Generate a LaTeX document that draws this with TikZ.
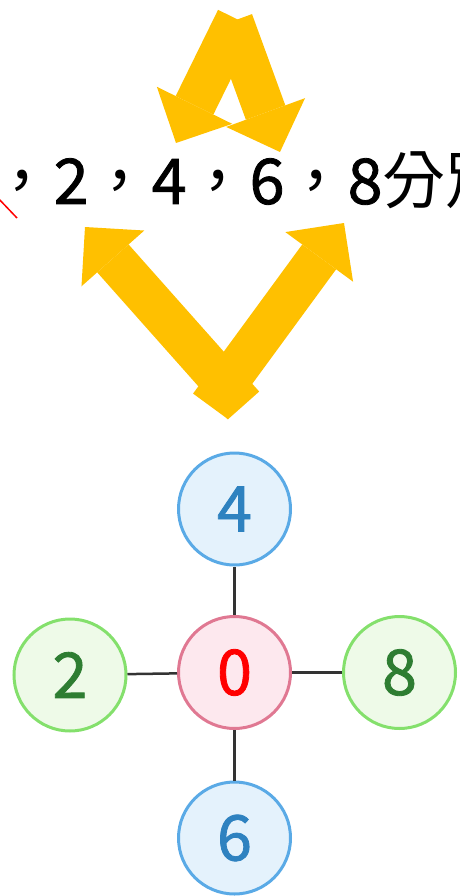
\documentclass[tikz,border=0pt]{standalone}
\usepackage{fontspec}
\usepackage{xcolor}
\usetikzlibrary{arrows.meta}
\newfontfamily\tcfont{Noto Sans CJK TC}
\newfontfamily\digfont{Noto Sans CJK TC}[FakeBold=1.3]
\definecolor{arrowyellow}{HTML}{FFC000}
\definecolor{ringblue}{HTML}{5AAAE6}
\definecolor{fillblue}{HTML}{E4F2FC}
\definecolor{textblue}{HTML}{2E82C0}
\definecolor{ringgreen}{HTML}{84E06C}
\definecolor{fillgreen}{HTML}{EEFAE8}
\definecolor{textgreen}{HTML}{2E7D32}
\definecolor{ringpink}{HTML}{E07892}
\definecolor{fillpink}{HTML}{FDE8EE}

\begin{document}
\begin{tikzpicture}[x=1pt,y=-1pt,
    bigarrow/.style={arrowyellow,line width=42pt,
        -{Triangle[length=42pt,width=84pt,line width=0pt]}},
    ball/.style={circle,minimum size=112pt,inner sep=0pt,line width=3pt,
        font=\digfont\fontsize{63}{63}\selectfont},
    blueball/.style={ball,draw=ringblue,fill=fillblue,text=textblue},
    greenball/.style={ball,draw=ringgreen,fill=fillgreen,text=textgreen},
    pinkball/.style={ball,draw=ringpink,fill=fillpink,text=red},
    link/.style={draw=black!80,line width=2.5pt}]
        \useasboundingbox (0,0) rectangle (459,896);
        \clip (0,0) rectangle (459,896);
        % yellow arrows
        \coordinate (top1) at (236.9,19.1);
        \coordinate (top2) at (232.3,21.3);
        \coordinate (tip4) at (176,143);
        \coordinate (tip6) at (280,152);
        \coordinate (low1) at (243.5,405.5);
        \coordinate (low2) at (210,406);
        \coordinate (tip2) at (85,227);
        \coordinate (tip8) at (344,223);
        \draw[bigarrow] (top1) -- (tip4);
        \draw[bigarrow] (top2) -- (tip6);
        \draw[bigarrow] (low1) -- (tip2);
        \draw[bigarrow] (low2) -- (tip8);
        % text line
        \draw[red,line width=1.5pt] (-3,197) -- (17,218);
        \node[anchor=base west,inner sep=0pt,font=\tcfont\fontsize{63}{63}\selectfont]
            (line) at (-9.5,204) {，{\digfont 2}，{\digfont 4}，{\digfont 6}，{\digfont 8}分別};
        % circles
        \node[pinkball] (n0) at (234.5,672.5) {0};
        \node[blueball] (n4) at (234.5,509) {4};
        \node[blueball] (n6) at (234.5,838) {6};
        \node[greenball] (n2) at (70,675) {2};
        \node[greenball] (n8) at (399.5,672.5) {8};
        \draw[link] (n4) -- (n0);
        \draw[link] (n0) -- (n6);
        \draw[link] (n2) -- (n0);
        \draw[link] (n0) -- (n8);
\end{tikzpicture}
\end{document}
